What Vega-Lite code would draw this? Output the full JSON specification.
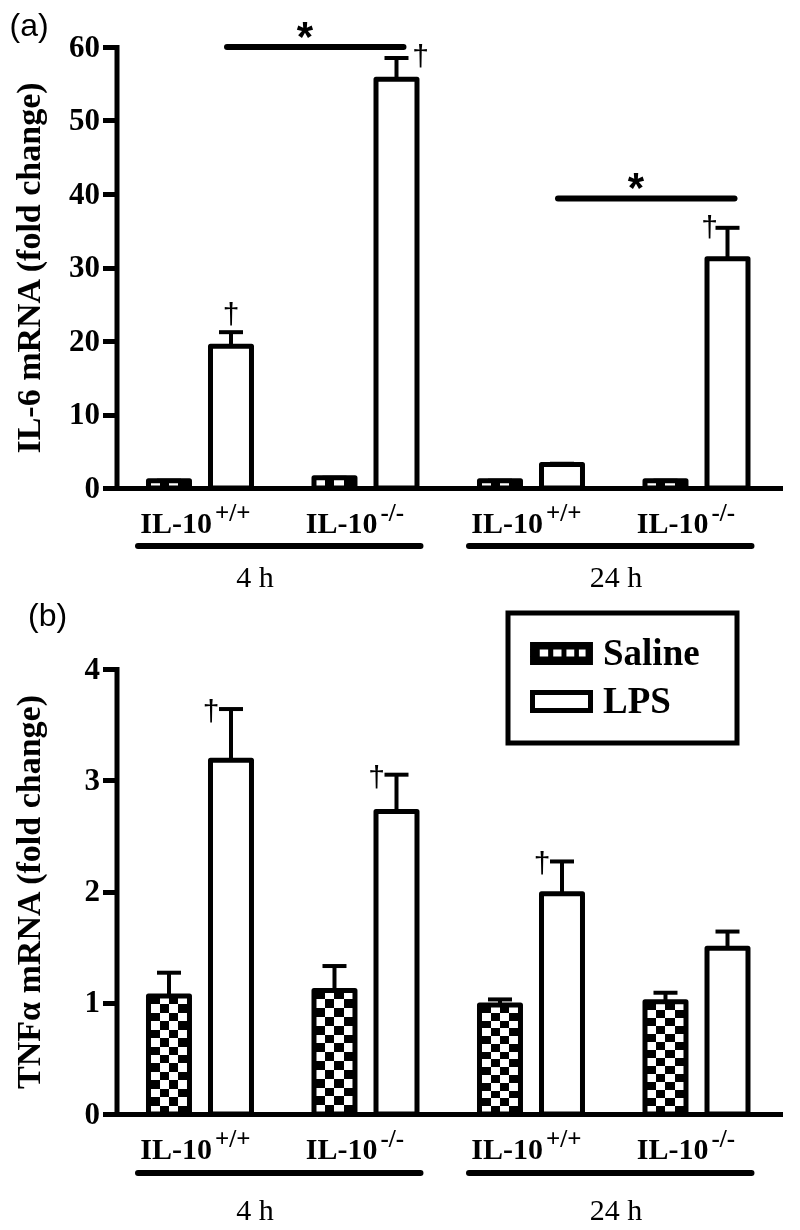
{
  "$schema": "https://vega.github.io/schema/vega-lite/v6.json",
  "background": "white",
  "padding": {"left": 9, "top": 10, "right": 0, "bottom": 0},
  "spacing": 181,
  "bounds": "flush",
  "config": {"view": {"stroke": null}},
  "datasets": {
    "bars_a": [
      {"group": "4h +/+", "treatment": "Saline", "value": 1.0, "upper": 1.0, "sig": ""},
      {"group": "4h +/+", "treatment": "LPS", "value": 19.3, "upper": 21.2, "sig": "†"},
      {"group": "4h -/-", "treatment": "Saline", "value": 1.4, "upper": 1.4, "sig": ""},
      {"group": "4h -/-", "treatment": "LPS", "value": 55.6, "upper": 58.5, "sig": "†"},
      {"group": "24h +/+", "treatment": "Saline", "value": 1.0, "upper": 1.0, "sig": ""},
      {"group": "24h +/+", "treatment": "LPS", "value": 3.2, "upper": 3.3, "sig": ""},
      {"group": "24h -/-", "treatment": "Saline", "value": 1.0, "upper": 1.0, "sig": ""},
      {"group": "24h -/-", "treatment": "LPS", "value": 31.2, "upper": 35.4, "sig": "†"}
    ],
    "bars_b": [
      {"group": "4h +/+", "treatment": "Saline", "value": 1.06, "upper": 1.27, "sig": ""},
      {"group": "4h +/+", "treatment": "LPS", "value": 3.18, "upper": 3.64, "sig": "†"},
      {"group": "4h -/-", "treatment": "Saline", "value": 1.11, "upper": 1.33, "sig": ""},
      {"group": "4h -/-", "treatment": "LPS", "value": 2.72, "upper": 3.05, "sig": "†"},
      {"group": "24h +/+", "treatment": "Saline", "value": 0.98, "upper": 1.03, "sig": ""},
      {"group": "24h +/+", "treatment": "LPS", "value": 1.98, "upper": 2.27, "sig": "†"},
      {"group": "24h -/-", "treatment": "Saline", "value": 1.01, "upper": 1.09, "sig": ""},
      {"group": "24h -/-", "treatment": "LPS", "value": 1.49, "upper": 1.64, "sig": ""}
    ],
    "genotypes": [
      {"group": "4h +/+", "label": "IL-10", "sup": "+/+"},
      {"group": "4h -/-", "label": "IL-10", "sup": "-/-"},
      {"group": "24h +/+", "label": "IL-10", "sup": "+/+"},
      {"group": "24h -/-", "label": "IL-10", "sup": "-/-"}
    ],
    "times": [
      {"time": "4 h", "from": "4h +/+", "to": "4h -/-"},
      {"time": "24 h", "from": "24h +/+", "to": "24h -/-"}
    ],
    "sig_a": [
      {"from": "4h +/+", "to": "4h -/-", "level": 60, "star": "*"},
      {"from": "24h +/+", "to": "24h -/-", "level": 39.4, "star": "*"}
    ]
  },
  "vconcat": [
    {
      "width": 677.5,
      "height": 441,
      "title": {"text": "(a)", "anchor": "start", "frame": "bounds", "font": "Liberation Sans", "fontSize": 32, "fontWeight": "normal", "color": "black", "offset": -26, "dx": -3},
      "data": {"name": "bars_a"},
      "layer": [
        {
          "transform": [{"filter": "datum.treatment === 'Saline'"}],
          "mark": {"type": "bar", "fill": "black", "strokeWidth": 0},
          "encoding": {
            "x": {"field": "group", "type": "nominal", "sort": null,
              "scale": {"domain": ["4h +/+", "4h -/-", "24h +/+", "24h -/-"], "paddingInner": 0, "paddingOuter": 0.0468, "align": 0.79},
              "axis": {"title": null, "labels": false, "ticks": false, "grid": false, "domainColor": "black", "domainWidth": 5, "domainCap": "round", "zindex": 1}},
            "xOffset": {"field": "treatment", "type": "nominal", "scale": {"domain": ["Saline", "LPS"], "paddingInner": 0.339, "paddingOuter": 0.504}},
            "y": {"field": "value", "type": "quantitative",
              "scale": {"domain": [0, 60], "nice": false},
              "axis": {"title": "IL-6 mRNA (fold change)", "values": [0, 10, 20, 30, 40, 50, 60], "format": "d", "offset": -11.5, "grid": false,
                "domainColor": "black", "domainWidth": 5, "domainCap": "square", "tickColor": "black", "tickWidth": 5, "tickSize": 14,
                "labelFont": "Liberation Serif", "labelFontSize": 31, "labelFontWeight": "bold", "labelColor": "black", "labelPadding": 3,
                "titleFont": "Liberation Serif", "titleFontSize": 34, "titleFontWeight": "bold", "titleColor": "black", "titlePadding": 22, "zindex": 1}}
          }
        },
        {
          "transform": [{"filter": "datum.treatment === 'Saline'"}],
          "mark": {"type": "bar", "strokeWidth": 0, "blend": "difference",
            "fill": {"gradient": "linear", "x1": 0, "y1": 0, "x2": 1, "y2": 0, "stops": [
              {"offset": 0, "color": "white"}, {"offset": 0.28, "color": "white"}, {"offset": 0.28, "color": "black"}, {"offset": 0.5, "color": "black"},
              {"offset": 0.5, "color": "white"}, {"offset": 0.72, "color": "white"}, {"offset": 0.72, "color": "black"}, {"offset": 1, "color": "black"}]}},
          "encoding": {
            "x": {"field": "group", "type": "nominal"},
            "xOffset": {"field": "treatment", "type": "nominal"},
            "y": {"field": "value", "type": "quantitative"}
          }
        },
        {
          "mark": {"type": "bar", "fill": "white", "fillOpacity": 0, "stroke": "black", "strokeWidth": 5, "strokeJoin": "round"},
          "encoding": {
            "x": {"field": "group", "type": "nominal"},
            "xOffset": {"field": "treatment", "type": "nominal"},
            "y": {"field": "value", "type": "quantitative"}
          }
        },
        {
          "mark": {"type": "rule", "strokeWidth": 4, "color": "black"},
          "encoding": {
            "x": {"field": "group", "type": "nominal"},
            "xOffset": {"field": "treatment", "type": "nominal"},
            "y": {"field": "value", "type": "quantitative"},
            "y2": {"field": "upper"}
          }
        },
        {
          "mark": {"type": "tick", "orient": "horizontal", "size": 24, "thickness": 4, "color": "black", "opacity": 1},
          "encoding": {
            "x": {"field": "group", "type": "nominal"},
            "xOffset": {"field": "treatment", "type": "nominal"},
            "y": {"field": "upper", "type": "quantitative"}
          }
        },
        {
          "transform": [{"filter": "datum.sig === '†' && datum.group === '4h +/+'"}],
          "mark": {"type": "text", "font": "Liberation Sans", "fontSize": 30, "color": "black", "align": "center", "baseline": "alphabetic", "dx": 0, "dy": -8},
          "encoding": {
            "x": {"field": "group", "type": "nominal"},
            "xOffset": {"field": "treatment", "type": "nominal"},
            "y": {"field": "upper", "type": "quantitative"},
            "text": {"field": "sig"}
          }
        },
        {
          "transform": [{"filter": "datum.sig === '†' && datum.group === '4h -/-'"}],
          "mark": {"type": "text", "font": "Liberation Sans", "fontSize": 30, "color": "black", "align": "center", "baseline": "alphabetic", "dx": 24, "dy": 8},
          "encoding": {
            "x": {"field": "group", "type": "nominal"},
            "xOffset": {"field": "treatment", "type": "nominal"},
            "y": {"field": "upper", "type": "quantitative"},
            "text": {"field": "sig"}
          }
        },
        {
          "transform": [{"filter": "datum.sig === '†' && datum.group === '24h -/-'"}],
          "mark": {"type": "text", "font": "Liberation Sans", "fontSize": 30, "color": "black", "align": "center", "baseline": "alphabetic", "dx": -18, "dy": 9},
          "encoding": {
            "x": {"field": "group", "type": "nominal"},
            "xOffset": {"field": "treatment", "type": "nominal"},
            "y": {"field": "upper", "type": "quantitative"},
            "text": {"field": "sig"}
          }
        },
        {
          "data": {"name": "sig_a"},
          "mark": {"type": "rule", "strokeWidth": 6, "strokeCap": "round", "color": "black", "xOffset": 27, "x2Offset": 38},
          "encoding": {
            "x": {"field": "from", "type": "nominal"},
            "x2": {"field": "to"},
            "y": {"field": "level", "type": "quantitative"}
          }
        },
        {
          "data": {"name": "sig_a"},
          "mark": {"type": "text", "font": "Liberation Sans", "fontWeight": "bold", "fontSize": 42, "color": "black", "align": "center", "baseline": "alphabetic", "dx": 105, "dy": 4},
          "encoding": {
            "x": {"field": "from", "type": "nominal"},
            "y": {"field": "level", "type": "quantitative"},
            "text": {"field": "star"}
          }
        },
        {
          "data": {"name": "genotypes"},
          "mark": {"type": "text", "font": "Liberation Serif", "fontWeight": "bold", "fontSize": 30, "color": "black", "align": "right", "baseline": "alphabetic", "dx": 12, "dy": 45},
          "encoding": {
            "x": {"field": "group", "type": "nominal"},
            "y": {"datum": 0, "type": "quantitative"},
            "text": {"field": "label"}
          }
        },
        {
          "data": {"name": "genotypes"},
          "mark": {"type": "text", "font": "Liberation Serif", "fontWeight": "bold", "fontSize": 25, "color": "black", "align": "left", "baseline": "alphabetic", "dx": 15, "dy": 33},
          "encoding": {
            "x": {"field": "group", "type": "nominal"},
            "y": {"datum": 0, "type": "quantitative"},
            "text": {"field": "sup"}
          }
        },
        {
          "data": {"name": "times"},
          "mark": {"type": "rule", "strokeWidth": 6, "strokeCap": "round", "color": "black", "xOffset": -62, "x2Offset": 55, "yOffset": 58},
          "encoding": {
            "x": {"field": "from", "type": "nominal"},
            "x2": {"field": "to"},
            "y": {"datum": 0, "type": "quantitative"}
          }
        },
        {
          "data": {"name": "times"},
          "transform": [{"filter": "datum.time === '4 h'"}],
          "mark": {"type": "text", "font": "Liberation Serif", "fontSize": 30, "color": "black", "align": "center", "baseline": "alphabetic", "dx": 55, "dy": 99},
          "encoding": {
            "x": {"field": "from", "type": "nominal"},
            "y": {"datum": 0, "type": "quantitative"},
            "text": {"field": "time"}
          }
        },
        {
          "data": {"name": "times"},
          "transform": [{"filter": "datum.time === '24 h'"}],
          "mark": {"type": "text", "font": "Liberation Serif", "fontSize": 30, "color": "black", "align": "center", "baseline": "alphabetic", "dx": 85, "dy": 99},
          "encoding": {
            "x": {"field": "from", "type": "nominal"},
            "y": {"datum": 0, "type": "quantitative"},
            "text": {"field": "time"}
          }
        }
      ]
    },
    {
      "width": 677.5,
      "height": 445,
      "title": {"text": "(b)", "anchor": "start", "frame": "bounds", "font": "Liberation Sans", "fontSize": 32, "fontWeight": "normal", "color": "black", "offset": 20, "dx": 16},
      "data": {"name": "bars_b"},
      "layer": [
        {
          "transform": [{"filter": "datum.treatment === 'Saline'"}],
          "mark": {"type": "bar", "strokeWidth": 0,
            "fill": {"gradient": "linear", "x1": 0, "y1": 0, "x2": 0, "y2": 1, "stops": [
              {"offset": 0, "color": "white"}, {"offset": 0.0714, "color": "white"}, {"offset": 0.0714, "color": "black"}, {"offset": 0.1429, "color": "black"},
              {"offset": 0.1429, "color": "white"}, {"offset": 0.2143, "color": "white"}, {"offset": 0.2143, "color": "black"}, {"offset": 0.2857, "color": "black"},
              {"offset": 0.2857, "color": "white"}, {"offset": 0.3571, "color": "white"}, {"offset": 0.3571, "color": "black"}, {"offset": 0.4286, "color": "black"},
              {"offset": 0.4286, "color": "white"}, {"offset": 0.5, "color": "white"}, {"offset": 0.5, "color": "black"}, {"offset": 0.5714, "color": "black"},
              {"offset": 0.5714, "color": "white"}, {"offset": 0.6429, "color": "white"}, {"offset": 0.6429, "color": "black"}, {"offset": 0.7143, "color": "black"},
              {"offset": 0.7143, "color": "white"}, {"offset": 0.7857, "color": "white"}, {"offset": 0.7857, "color": "black"}, {"offset": 0.8571, "color": "black"},
              {"offset": 0.8571, "color": "white"}, {"offset": 0.9286, "color": "white"}, {"offset": 0.9286, "color": "black"}, {"offset": 1, "color": "black"}]}},
          "encoding": {
            "x": {"field": "group", "type": "nominal", "sort": null,
              "scale": {"domain": ["4h +/+", "4h -/-", "24h +/+", "24h -/-"], "paddingInner": 0, "paddingOuter": 0.0468, "align": 0.79},
              "axis": {"title": null, "labels": false, "ticks": false, "grid": false, "domainColor": "black", "domainWidth": 5, "domainCap": "round", "zindex": 1}},
            "xOffset": {"field": "treatment", "type": "nominal", "scale": {"domain": ["Saline", "LPS"], "paddingInner": 0.339, "paddingOuter": 0.504}},
            "y": {"field": "value", "type": "quantitative",
              "scale": {"domain": [0, 4], "nice": false},
              "axis": {"title": "TNFα mRNA (fold change)", "values": [0, 1, 2, 3, 4], "format": "d", "offset": -11.5, "grid": false,
                "domainColor": "black", "domainWidth": 5, "domainCap": "square", "tickColor": "black", "tickWidth": 5, "tickSize": 14,
                "labelFont": "Liberation Serif", "labelFontSize": 31, "labelFontWeight": "bold", "labelColor": "black", "labelPadding": 3,
                "titleFont": "Liberation Serif", "titleFontSize": 34, "titleFontWeight": "bold", "titleColor": "black", "titlePadding": 38, "zindex": 1}}
          }
        },
        {
          "transform": [{"filter": "datum.treatment === 'Saline'"}],
          "mark": {"type": "bar", "strokeWidth": 0, "blend": "difference",
            "fill": {"gradient": "linear", "x1": 0, "y1": 0, "x2": 1, "y2": 0, "stops": [
              {"offset": 0, "color": "white"}, {"offset": 0.28, "color": "white"}, {"offset": 0.28, "color": "black"}, {"offset": 0.5, "color": "black"},
              {"offset": 0.5, "color": "white"}, {"offset": 0.72, "color": "white"}, {"offset": 0.72, "color": "black"}, {"offset": 1, "color": "black"}]}},
          "encoding": {
            "x": {"field": "group", "type": "nominal"},
            "xOffset": {"field": "treatment", "type": "nominal"},
            "y": {"field": "value", "type": "quantitative"}
          }
        },
        {
          "mark": {"type": "bar", "fillOpacity": 0, "stroke": "black", "strokeWidth": 5, "strokeJoin": "round"},
          "encoding": {
            "x": {"field": "group", "type": "nominal"},
            "xOffset": {"field": "treatment", "type": "nominal"},
            "y": {"field": "value", "type": "quantitative"},
            "fill": {"field": "treatment", "type": "nominal",
              "scale": {"domain": ["Saline", "LPS"], "range": ["black", "white"]},
              "legend": {"title": "\u2800", "titleOrient": "right", "titleFontSize": 14, "titlePadding": 5, "titleColor": "white",
                "orient": "none", "legendX": 403, "legendY": 566, "direction": "vertical",
                "strokeColor": "black", "fillColor": "white", "padding": 22,
                "symbolType": "M-2,-0.62H2V0.62H-2Z", "symbolSize": 841, "symbolOffset": 13,
                "symbolStrokeColor": "black", "symbolStrokeWidth": 5,
                "labelFont": "Liberation Serif", "labelFontSize": 37, "labelFontWeight": "bold", "labelColor": "black",
                "labelOffset": 23, "labelLimit": 400, "rowPadding": 10,
                "encode": {
                  "legend": {"update": {"strokeWidth": {"value": 5}}},
                  "symbols": {"update": {
                    "shape": {"signal": "datum.value === 'Saline' ? 'M-2.17,-0.79H2.17V0.79H-2.17ZM-1.5,-0.28V0.21H-0.92V-0.28ZM-0.57,-0.28V0.21H0V-0.28ZM0.34,-0.28V0.21H0.88V-0.28ZM1.2,-0.28V0.21H1.66V-0.28Z' : 'M-2,-0.62H2V0.62H-2Z'"},
                    "strokeWidth": {"signal": "datum.value === 'Saline' ? 0 : 5"},
                    "fill": {"signal": "datum.value === 'Saline' ? 'black' : 'white'"},
                    "stroke": {"value": "black"},
                    "opacity": {"value": 1},
                    "fillOpacity": {"value": 1}
                  }}
                }}
            }
          }
        },
        {
          "mark": {"type": "rule", "strokeWidth": 4, "color": "black"},
          "encoding": {
            "x": {"field": "group", "type": "nominal"},
            "xOffset": {"field": "treatment", "type": "nominal"},
            "y": {"field": "value", "type": "quantitative"},
            "y2": {"field": "upper"}
          }
        },
        {
          "mark": {"type": "tick", "orient": "horizontal", "size": 24, "thickness": 4, "color": "black", "opacity": 1},
          "encoding": {
            "x": {"field": "group", "type": "nominal"},
            "xOffset": {"field": "treatment", "type": "nominal"},
            "y": {"field": "upper", "type": "quantitative"}
          }
        },
        {
          "transform": [{"filter": "datum.sig === '†'"}],
          "mark": {"type": "text", "font": "Liberation Sans", "fontSize": 30, "color": "black", "align": "center", "baseline": "alphabetic", "dx": -20, "dy": 12},
          "encoding": {
            "x": {"field": "group", "type": "nominal"},
            "xOffset": {"field": "treatment", "type": "nominal"},
            "y": {"field": "upper", "type": "quantitative"},
            "text": {"field": "sig"}
          }
        },
        {
          "data": {"name": "genotypes"},
          "mark": {"type": "text", "font": "Liberation Serif", "fontWeight": "bold", "fontSize": 30, "color": "black", "align": "right", "baseline": "alphabetic", "dx": 12, "dy": 45},
          "encoding": {
            "x": {"field": "group", "type": "nominal"},
            "y": {"datum": 0, "type": "quantitative"},
            "text": {"field": "label"}
          }
        },
        {
          "data": {"name": "genotypes"},
          "mark": {"type": "text", "font": "Liberation Serif", "fontWeight": "bold", "fontSize": 25, "color": "black", "align": "left", "baseline": "alphabetic", "dx": 15, "dy": 33},
          "encoding": {
            "x": {"field": "group", "type": "nominal"},
            "y": {"datum": 0, "type": "quantitative"},
            "text": {"field": "sup"}
          }
        },
        {
          "data": {"name": "times"},
          "mark": {"type": "rule", "strokeWidth": 6, "strokeCap": "round", "color": "black", "xOffset": -62, "x2Offset": 55, "yOffset": 59},
          "encoding": {
            "x": {"field": "from", "type": "nominal"},
            "x2": {"field": "to"},
            "y": {"datum": 0, "type": "quantitative"}
          }
        },
        {
          "data": {"name": "times"},
          "transform": [{"filter": "datum.time === '4 h'"}],
          "mark": {"type": "text", "font": "Liberation Serif", "fontSize": 30, "color": "black", "align": "center", "baseline": "alphabetic", "dx": 55, "dy": 106},
          "encoding": {
            "x": {"field": "from", "type": "nominal"},
            "y": {"datum": 0, "type": "quantitative"},
            "text": {"field": "time"}
          }
        },
        {
          "data": {"name": "times"},
          "transform": [{"filter": "datum.time === '24 h'"}],
          "mark": {"type": "text", "font": "Liberation Serif", "fontSize": 30, "color": "black", "align": "center", "baseline": "alphabetic", "dx": 85, "dy": 106},
          "encoding": {
            "x": {"field": "from", "type": "nominal"},
            "y": {"datum": 0, "type": "quantitative"},
            "text": {"field": "time"}
          }
        }
      ]
    }
  ]
}
